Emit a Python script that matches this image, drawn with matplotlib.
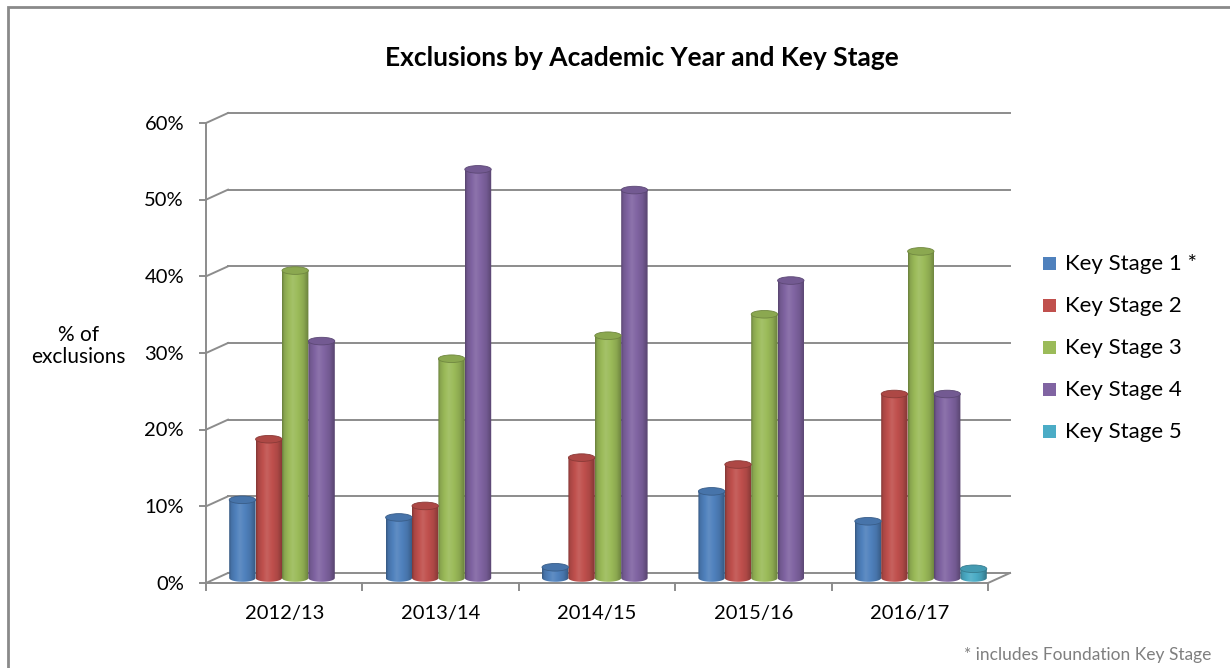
import numpy as np
import matplotlib
matplotlib.use("Agg")
import matplotlib.pyplot as plt
import matplotlib.colors as mcolors
from matplotlib.patches import Polygon, Ellipse, Rectangle

plt.rcParams['font.family'] = ['Lato', 'DejaVu Sans']

# Share of exclusions (%) per academic year, one list per key stage
years = ["2012/13", "2013/14", "2014/15", "2015/16", "2016/17"]
ks1 = [10.2, 7.9, 1.4, 11.3, 7.4]
ks2 = [18.1, 9.4, 15.7, 14.8, 24.0]
ks3 = [40.1, 28.6, 31.6, 34.4, 42.6]
ks4 = [30.9, 53.3, 50.6, 38.8, 24.0]
ks5 = [0.0, 0.0, 0.0, 0.0, 1.2]
series_names = ["Key Stage 1 *", "Key Stage 2", "Key Stage 3", "Key Stage 4", "Key Stage 5"]
series_colors = ["#4F81BD", "#C0504D", "#9BBB59", "#8064A2", "#4BACC6"]
yticks = [0, 10, 20, 30, 40, 50, 60]

W, H = 1230, 668
fig = plt.figure(figsize=(W / 100, H / 100), dpi=100)

# front plane of the 3-D plot box, in pixels
x0_px, x1_px = 206, 988
y0_px, y1_px = 583, 123
ax = fig.add_axes([x0_px / W, 1 - y0_px / H, (x1_px - x0_px) / W, (y0_px - y1_px) / H])
ax.set_axis_off()

n = len(years)
ymax = 60
px_x = (x1_px - x0_px) / n      # pixels per category
px_y = (y0_px - y1_px) / ymax    # pixels per percent
dx = 22 / px_x                   # depth offset of the back wall
dy = 10 / px_y

grid_col = "#8c8c8c"
lw = 1.4

# back wall gridlines plus the diagonals to the left axis
for v in yticks:
    ax.plot([dx, n + dx], [v + dy, v + dy], color=grid_col, lw=lw, clip_on=False, zorder=1)
    ax.plot([0, dx], [v, v + dy], color=grid_col, lw=lw, clip_on=False, zorder=1)
    ax.plot([-6 / px_x, 0], [v, v], color=grid_col, lw=lw, clip_on=False, zorder=1)

# left axis, floor front edge and right floor edge
ax.plot([0, 0], [0, ymax], color=grid_col, lw=lw, clip_on=False, zorder=1)
ax.plot([0, n], [0, 0], color=grid_col, lw=lw, clip_on=False, zorder=1)
ax.plot([n, n + dx], [0, dy], color=grid_col, lw=lw, clip_on=False, zorder=1)
for i in range(n + 1):
    ax.plot([i, i], [0, -7 / px_y], color=grid_col, lw=lw, clip_on=False, zorder=1)

# tick labels, placed in figure pixels next to the front plane
for v in yticks:
    fig.text(184 / W, 1 - (y0_px - v * px_y + 1) / H, f"{v}%", ha="right", va="center",
             fontsize=14.5)
for i, yr in enumerate(years):
    fig.text((x0_px + (i + 0.5) * px_x) / W, 1 - 613 / H, yr, ha="center", va="center",
             fontsize=14.5)


def shade(color, f):
    rgb = np.array(mcolors.to_rgb(color))
    if f < 1:
        return tuple(rgb * f)
    return tuple(rgb + (1 - rgb) * (f - 1))


def cylinder(xl, width, base, value, color, z):
    ry = 3.8 / px_y
    cx = xl + width / 2
    top = base + value
    t = np.linspace(0, 1, 80)
    prof = np.interp(t, [0, 0.08, 0.4, 0.8, 1], [0.68, 0.88, 1.1, 0.9, 0.68])
    img = np.array([shade(color, f) for f in prof])[None, :, :]
    ang = np.linspace(0, np.pi, 40)
    pts = [(xl, top), (xl + width, top)]
    pts += [(cx + width / 2 * np.cos(a), base - ry * np.sin(a)) for a in ang]
    clip = Polygon(pts, closed=True, transform=ax.transData)
    im = ax.imshow(img, extent=[xl, xl + width, base - ry, top], aspect="auto",
                   interpolation="bilinear", zorder=z)
    im.set_clip_path(clip)
    ax.add_patch(Ellipse((cx, top), width, 2 * ry, facecolor=shade(color, 0.9),
                         edgecolor=shade(color, 0.72), lw=0.6, zorder=z + 0.5))


all_series = [ks1, ks2, ks3, ks4, ks5]
bar_w = 26.4 / px_x
gap = 1 - bar_w * len(all_series)
for j, (vals, col) in enumerate(zip(all_series, series_colors)):
    for i, v in enumerate(vals):
        if v <= 0:
            continue
        xl = i + gap / 2 + j * bar_w + dx / 2
        cylinder(xl, bar_w, dy / 2, v, col, 3 + j * 0.01 + i)

ax.set_xlim(0, n)
ax.set_ylim(0, ymax)

# legend on the right
for j, (name, col) in enumerate(zip(series_names, series_colors)):
    yc = 264 + j * 42
    fig.patches.append(Rectangle((1043 / W, 1 - (yc + 6) / H), 13 / W, 13 / H,
                                 transform=fig.transFigure, facecolor=col, edgecolor="none"))
    fig.text(1065 / W, 1 - yc / H, name, ha="left", va="center", fontsize=16)

fig.text(642 / W, 1 - 58 / H, "Exclusions by Academic Year and Key Stage",
         ha="center", va="center", fontsize=19, fontweight="bold")
fig.text(78 / W, 1 - 346 / H, "% of\nexclusions", ha="center", va="center",
         fontsize=15, linespacing=1.15)
fig.text(1211 / W, 1 - 655 / H, "* includes Foundation Key Stage", ha="right",
         va="center", fontsize=12.5, color="#7f7f7f")

# chart frame
fig.patches.append(Rectangle((8 / W, -0.1), 1.2, 1 - 7 / H + 0.1, transform=fig.transFigure,
                             facecolor="none", edgecolor="#8a8a8a", lw=2))

fig.savefig("out.png", dpi=100)
